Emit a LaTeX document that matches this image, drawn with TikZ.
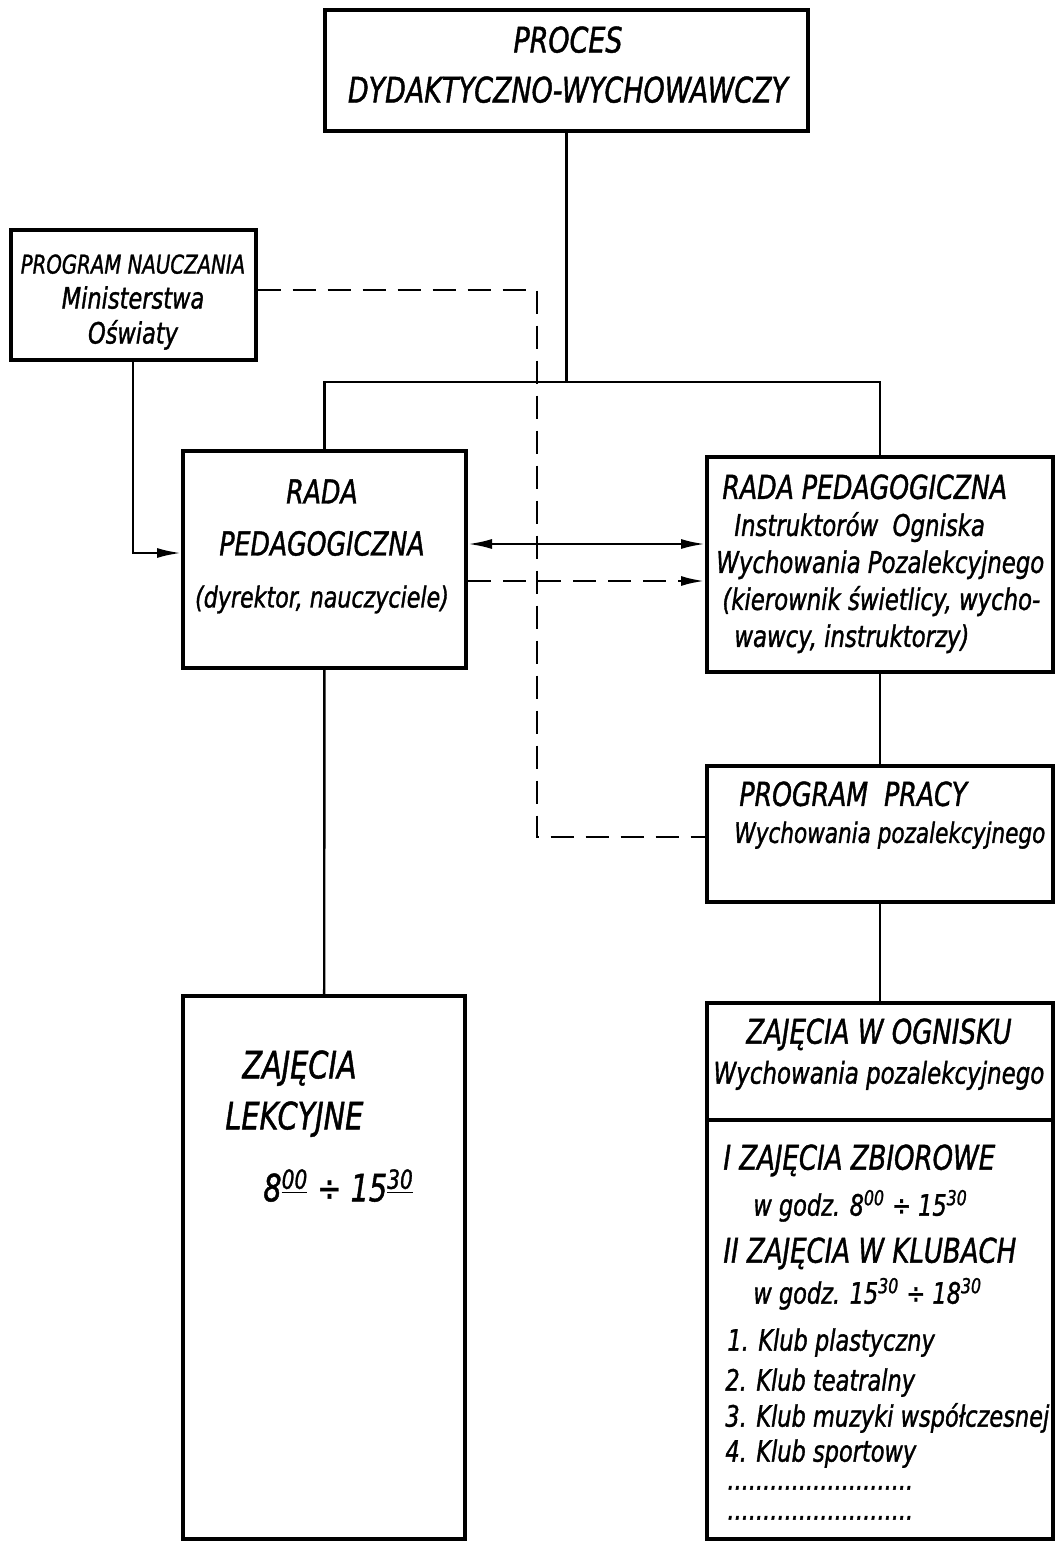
\documentclass[tikz,border=0pt]{standalone}
\usepackage{fontspec}
\setmainfont{DejaVu Sans Condensed}[FakeStretch=0.85, FakeBold=1.2]
\usetikzlibrary{arrows.meta}

\begin{document}
\begin{tikzpicture}[x=0.5pt, y=-0.5pt,
  box/.style 2 args={draw, line width=2pt, inner sep=0, minimum width=#1*0.5pt, minimum height=#2*0.5pt},
  hand/.style 2 args={inner sep=0, font=\itshape\fontsize{#1}{#2}\selectfont},
  conn/.style={line width=1.2pt},
  dashline/.style={line width=1.4pt, dash pattern=on 11.5pt off 6pt}]
\useasboundingbox (0,0) rectangle (1056,1541);
% boxes
\node[box={483}{121}] (proc) at (566.5,71) {};
\node[box={245}{130}] (prog) at (133,295) {};
\node[box={283}{217}] (rada) at (324.5,559) {};
\node[box={346}{215}] (rada2) at (880,564) {};
\node[box={346}{136}] (ppr) at (880,834) {};
\node[box={346}{117}] (zog) at (880,1061.5) {};
\node[box={346}{419}] (zkl) at (880,1329.5) {};
\node[box={282}{543}] (zl) at (324,1267.5) {};
% texts
\node[hand={17.6}{25}, align=center, anchor=north] (proct) at (568,26) {PROCES\\DYDAKTYCZNO-WYCHOWAWCZY};
\node[hand={14.7}{17.5}, align=center, anchor=north] (progt) at (133,254) {{\fontsize{12.9}{17.5}\selectfont PROGRAM NAUCZANIA}\\Ministerstwa\\Oświaty};
\node[hand={16.5}{26}, align=center, anchor=north] (radat) at (322,479) {RADA\\PEDAGOGICZNA\\{\fontsize{14.5}{26}\selectfont (dyrektor, nauczyciele)}};
\node[hand={14.9}{18.5}, align=left, anchor=north west] (rada2t) at (716,474) {\hspace*{3pt}{\fontsize{16.5}{18.5}\selectfont RADA PEDAGOGICZNA}\\\hspace*{9pt}Instruktorów\ \ Ogniska\\Wychowania Pozalekcyjnego\\\hspace*{3pt}(kierownik świetlicy, wycho-\\\hspace*{9pt}wawcy, instruktorzy)};
\node[hand={14.1}{18.5}, align=left, anchor=north west] (pprt) at (734,781) {\hspace*{2.5pt}{\fontsize{16.5}{18.5}\selectfont PROGRAM\ \ PRACY}\\Wychowania pozalekcyjnego};
\node[hand={15}{20}, align=center, anchor=north] (zogt) at (879,1018) {{\fontsize{17}{20}\selectfont ZAJĘCIA W OGNISKU}\\Wychowania pozalekcyjnego};
\node[hand={14.7}{18}, align=left, anchor=north west] (zklt) at (723,1144) {{\fontsize{17}{18}\selectfont I ZAJĘCIA ZBIOROWE}\\[5pt]\hspace*{15pt}w godz. 8\textsuperscript{00} ÷ 15\textsuperscript{30}\\[5.5pt]{\fontsize{17}{18}\selectfont II ZAJĘCIA W KLUBACH}\\[2.5pt]\hspace*{15pt}w godz. 15\textsuperscript{30} ÷ 18\textsuperscript{30}\\[5.5pt]\hspace*{2pt}1. Klub plastyczny\\[2pt]\hspace*{1pt}2. Klub teatralny\\\hspace*{1pt}3. Klub muzyki współczesnej\\[-0.5pt]\hspace*{1pt}4. Klub sportowy\\[-4pt]\hspace*{2pt}..........................\\[-3pt]\hspace*{2pt}..........................};
\node[hand={18.8}{25.5}, align=left, anchor=north west] (zlt) at (225,1050) {\hspace*{8.5pt}ZAJĘCIA\\LEKCYJNE\\[10.5pt]\hspace*{19pt}8\textsuperscript{\underline{00}} ÷ 15\textsuperscript{\underline{30}}};
% connectors
\coordinate (split) at (566.5,382);
\draw[conn] (proc.south) -- (split);
\draw[conn] (rada.north) |- (split) -| (rada2.north);
\draw[conn,-{Latex[length=12,width=5]}] (prog.south) |- ([yshift=3pt]rada.west);
\draw[conn,{Latex[length=12,width=5]}-{Latex[length=12,width=5]}] (rada.east |- 0,544) -- (rada2.west |- 0,544);
\draw[dashline,-{Latex[length=12,width=5]}] (rada.east |- 0,581) -- (rada2.west |- 0,581);
\draw[dashline] (prog.east |- 0,290) -| (537,837) -- (ppr.west |- 0,837);
\draw[conn] (rada2) -- (ppr);
\draw[conn] (ppr) -- (zog);
\draw[conn] (rada) -- (zl);
\end{tikzpicture}
\end{document}
